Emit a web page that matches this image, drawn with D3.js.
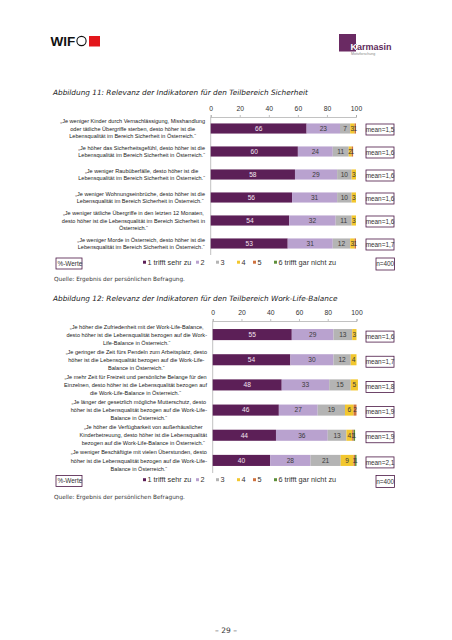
<!DOCTYPE html>
<html><head><meta charset="utf-8">
<script src="https://cdn.jsdelivr.net/npm/d3@7"></script>
<style>
body{margin:0;background:#fff;}
svg{display:block;}
</style></head>
<body>
<svg id="page" width="452" height="640"></svg>
<script>
// ---------- DATA ----------
const levels = ["1 trifft sehr zu","2","3","4","5","6 trifft gar nicht zu"];
const ticks = [0,20,40,60,80,100];

const title1 = "Abbildung 11: Relevanz der Indikatoren für den Teilbereich Sicherheit";
const labels1 = [
  ["„Je weniger Kinder durch Vernachlässigung, Misshandlung","oder tätliche Übergriffe sterben, desto höher ist die","Lebensqualität im Bereich Sicherheit in Österreich.“"],
  ["„Je höher das Sicherheitsgefühl, desto höher ist die","Lebensqualität im Bereich Sicherheit in Österreich.“"],
  ["„Je weniger Raubüberfälle, desto höher ist die","Lebensqualität im Bereich Sicherheit in Österreich.“"],
  ["„Je weniger Wohnungseinbrüche, desto höher ist die","Lebensqualität im Bereich Sicherheit in Österreich.“"],
  ["„Je weniger tätliche Übergriffe in den letzten 12 Monaten,","desto höher ist die Lebensqualität im Bereich Sicherheit in","Österreich.“"],
  ["„Je weniger Morde in Österreich, desto höher ist die","Lebensqualität im Bereich Sicherheit in Österreich.“"]
];
const s1_1 = [66,60,58,56,54,53];
const s1_2 = [23,24,29,31,32,31];
const s1_3 = [7,11,10,10,11,12];
const s1_4 = [3,2,3,3,3,3];
const s1_5 = [1,1,0,0,0,1];
const s1_6 = [0,0,0,0,0,0];
const means1 = ["1,5","1,6","1,6","1,6","1,6","1,7"];

const title2 = "Abbildung 12: Relevanz der Indikatoren für den Teilbereich Work-Life-Balance";
const labels2 = [
  ["„Je höher die Zufriedenheit mit der Work-Life-Balance,","desto höher ist die Lebensqualität bezogen auf die Work-","Life-Balance in Österreich.“"],
  ["„Je geringer die Zeit fürs Pendeln zum Arbeitsplatz, desto","höher ist die Lebensqualität bezogen auf die Work-Life-","Balance in Österreich.“"],
  ["„Je mehr Zeit für Freizeit und persönliche Belange für den","Einzelnen, desto höher ist die Lebensqualität bezogen auf","die Work-Life-Balance in Österreich.“"],
  ["„Je länger der gesetzlich mögliche Mutterschutz, desto","höher ist die Lebensqualität bezogen auf die Work-Life-","Balance in Österreich.“"],
  ["„Je höher die Verfügbarkeit von außerhäuslicher","Kinderbetreuung, desto höher ist die Lebensqualität","bezogen auf die Work-Life-Balance in Österreich.“"],
  ["„Je weniger Beschäftigte mit vielen Überstunden, desto","höher ist die Lebensqualität bezogen auf die Work-Life-","Balance in Österreich.“"]
];
const s2_1 = [55,54,48,46,44,40];
const s2_2 = [29,30,33,27,36,28];
const s2_3 = [13,12,15,19,13,21];
const s2_4 = [3,4,5,6,4,9];
const s2_5 = [0,0,0,2,1,1];
const s2_6 = [0,0,0,0,1,1];
const means2 = ["1,6","1,7","1,8","1,9","1,9","2,1"];

const sampleLabel = "n=400";
const unitLabel = "%-Werte";
const sourceText = "Quelle: Ergebnis der persönlichen Befragung.";
const pageNumber = "– 29 –";

// ---------- STYLE ----------
const colors = ["#5c1f57","#b9a2cf","#b4b4b4","#f2c72e","#d0723f","#5d8f3a"];
const labelColors = ["#f3e6f1","#3a3a3a","#3a3a3a","#3a3a3a","#3a3a3a","#3a3a3a"];
const boxStroke = "#4b1845";
const txtFont = "'Liberation Sans Narrow','Arial Narrow','Liberation Sans',Arial,sans-serif";
const gothic = "'DejaVu Sans','Liberation Sans',sans-serif";

const svg = d3.select("#page");

// ---------- HEADER ----------
const hdr = svg.append("g");
hdr.append("text").attr("x",50.5).attr("y",46).attr("font-family","'Liberation Sans',Arial,sans-serif")
  .attr("font-weight","bold").attr("font-size",13.5).attr("fill","#111").text("WIF");
hdr.append("circle").attr("cx",81.5).attr("cy",41).attr("r",4.6).attr("fill","none").attr("stroke","#111").attr("stroke-width",1.1);
hdr.append("rect").attr("x",89).attr("y",36).attr("width",11).attr("height",10.5).attr("fill","#e3161b");

svg.append("defs").append("clipPath").attr("id","kclip")
  .append("rect").attr("x",339).attr("y",34).attr("width",17).attr("height",17.5);
hdr.append("rect").attr("x",339).attr("y",34).attr("width",17).attr("height",17.5).attr("fill","#6a2a63");
hdr.append("text").attr("x",350.5).attr("y",49.5).attr("font-family","'Liberation Sans',Arial,sans-serif")
  .attr("font-weight","bold").attr("font-size",9).attr("fill","#5e2a5b").text("Karmasin");
hdr.append("text").attr("x",350.5).attr("y",49.5).attr("font-family","'Liberation Sans',Arial,sans-serif")
  .attr("font-weight","bold").attr("font-size",9).attr("fill","#fff").attr("clip-path","url(#kclip)").text("Karmasin");
hdr.append("text").attr("x",351).attr("y",55).attr("font-family","'Liberation Sans',Arial,sans-serif")
  .attr("font-size",3.6).attr("fill","#888").text("Motivforschung");

// ---------- measuring helper ----------
function fitSize(sample, targetW, family, base){
  const t = svg.append("text").attr("font-family",family).attr("font-size",base).text(sample);
  const w = t.node().getComputedTextLength();
  t.remove();
  return base*targetW/w;
}
const labelSize = fitSize("„Je weniger Kinder durch Vernachlässigung, Misshandlung",145,txtFont,6);
const legendSize = fitSize("1 trifft sehr zu",44,txtFont,6);
const titleSize = fitSize(title2,283,gothic,8);
const srcSize = fitSize(sourceText,131,gothic,7);

// ---------- CHART ----------
function drawChart(cfg){
  const g = svg.append("g");
  const series = [cfg.s1,cfg.s2,cfg.s3,cfg.s4,cfg.s5,cfg.s6];
  const idx = d3.range(cfg.labels.length);
  const x = d3.scaleLinear().domain([0,100]).range([cfg.x0,cfg.x1]);
  const y = d3.scaleBand().domain(idx).range([cfg.yTop,cfg.yBot]).paddingInner(cfg.pad).paddingOuter(cfg.pad/2);

  g.append("text").attr("x",53).attr("y",cfg.titleY).attr("font-family",gothic).attr("font-style","italic")
    .attr("font-size",titleSize).attr("fill","#222").text(cfg.title);

  const ax = g.append("g").attr("transform",`translate(0,${cfg.axisY})`)
    .call(d3.axisTop(x).tickValues(ticks).tickSize(2).tickPadding(4));
  ax.select(".domain").attr("stroke","#999").attr("stroke-width",0.6);
  ax.selectAll(".tick line").attr("stroke","#999").attr("stroke-width",0.6);
  ax.selectAll(".tick text").attr("font-family",txtFont).attr("font-size",6.8).attr("fill","#333");
  g.append("line").attr("x1",x(0)).attr("x2",x(0)).attr("y1",cfg.axisY).attr("y2",cfg.yBot)
    .attr("stroke","#999").attr("stroke-width",0.6);

  const stacked = d3.stack().keys(d3.range(6)).value((i,k)=>series[k][i])(idx);
  stacked.forEach((layer,k)=>{
    const lg = g.append("g");
    lg.selectAll("rect").data(layer.map((d,i)=>({d,i}))).join("rect")
      .attr("x",o=>x(o.d[0])).attr("width",o=>Math.max(0,x(o.d[1])-x(o.d[0])))
      .attr("y",o=>y(o.i)).attr("height",y.bandwidth()).attr("fill",colors[k]);
    lg.selectAll("text").data(layer.map((d,i)=>({d,i,v:series[k][i]})).filter(o=>o.v>0)).join("text")
      .attr("x",o=>x((o.d[0]+o.d[1])/2)).attr("y",o=>y(o.i)+y.bandwidth()/2+2.3)
      .attr("text-anchor","middle").attr("font-family",txtFont).attr("font-size",6.6)
      .attr("fill",labelColors[k]).text(o=>o.v);
  });

  idx.forEach(i=>{
    const lines = cfg.labels[i];
    const tg = g.append("g");
    const ts = lines.map(l=>tg.append("text").attr("font-family",txtFont).attr("font-size",labelSize).attr("fill","#222").text(l));
    const maxW = d3.max(ts,t=>t.node().getComputedTextLength());
    const cx = cfg.labelRight - maxW/2;
    const cy = y(i)+y.bandwidth()/2;
    const n = lines.length;
    ts.forEach((t,j)=>{
      t.attr("x",cx).attr("text-anchor","middle").attr("y",cy+(j-(n-1)/2)*cfg.lineH+2.1);
    });
  });

  idx.forEach(i=>{
    const cy = y(i)+y.bandwidth()/2+cfg.meanOff;
    g.append("rect").attr("x",366).attr("y",cy-5.5).attr("width",28).attr("height",11)
      .attr("fill","#fff").attr("stroke",boxStroke).attr("stroke-width",0.8);
    g.append("text").attr("x",380).attr("y",cy+2.2).attr("text-anchor","middle")
      .attr("font-family",txtFont).attr("font-size",6.4).attr("fill","#333").text("mean="+cfg.means[i]);
  });

  const lgX = [143,196,216,237,253,274];
  levels.forEach((lv,k)=>{
    g.append("rect").attr("x",lgX[k]).attr("y",cfg.legendY-2.8).attr("width",3).attr("height",3).attr("fill",colors[k]);
    g.append("text").attr("x",lgX[k]+4.5).attr("y",cfg.legendY+1.2).attr("font-family",txtFont)
      .attr("font-size",legendSize).attr("fill","#333").text(lv);
  });
  g.append("rect").attr("x",56).attr("y",cfg.legendY-5.5).attr("width",26).attr("height",11)
    .attr("fill","#fff").attr("stroke",boxStroke).attr("stroke-width",0.8);
  g.append("text").attr("x",57.5).attr("y",cfg.legendY+2.2).attr("font-family",txtFont)
    .attr("font-size",6.4).attr("fill","#333").text(unitLabel);
  g.append("rect").attr("x",376).attr("y",cfg.legendY-5.5).attr("width",18.5).attr("height",12)
    .attr("fill","#fff").attr("stroke",boxStroke).attr("stroke-width",0.8);
  g.append("text").attr("x",385.2).attr("y",cfg.legendY+2.7).attr("text-anchor","middle").attr("font-family",txtFont)
    .attr("font-size",6.4).attr("fill","#333").text(sampleLabel);

  g.append("text").attr("x",54).attr("y",cfg.srcY).attr("font-family",gothic)
    .attr("font-size",srcSize).attr("fill","#333").text(sourceText);
}

drawChart({title:title1,titleY:95,labels:labels1,s1:s1_1,s2:s1_2,s3:s1_3,s4:s1_4,s5:s1_5,s6:s1_6,means:means1,
  x0:210.7,x1:356,axisY:117,yTop:117,yBot:255,pad:0.56,lineH:7.5,labelRight:205,meanOff:1,legendY:263.5,srcY:280.5});
drawChart({title:title2,titleY:300.5,labels:labels2,s1:s2_1,s2:s2_2,s3:s2_3,s4:s2_4,s5:s2_5,s6:s2_6,means:means2,
  x0:212.7,x1:356.5,axisY:321,yTop:322,yBot:473,pad:0.56,lineH:8.1,labelRight:207,meanOff:2,legendY:481,srcY:498.5});

svg.append("text").attr("x",226).attr("y",633).attr("text-anchor","middle").attr("font-family",gothic)
  .attr("font-size",7.5).attr("fill","#333").text(pageNumber);
</script>
</body></html>
